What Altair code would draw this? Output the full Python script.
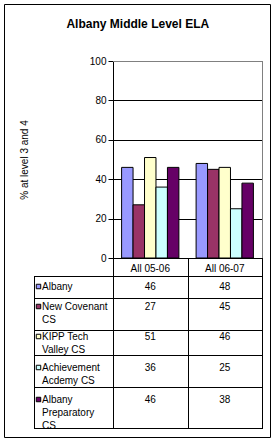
import altair as alt
import pandas as pd

# ---------------- data ----------------
title_text = "Albany Middle Level ELA"
y_title = "% at level 3 and 4"
categories = ["All 05-06", "All 06-07"]
schools = ["Albany", "New Covenant CS", "KIPP Tech Valley CS",
           "Achievement Acdemy CS", "Albany Preparatory CS"]
label_lines = [["Albany"], ["New Covenant", "CS"], ["KIPP Tech", "Valley CS"],
               ["Achievement", "Acdemy CS"], ["Albany", "Preparatory", "CS"]]
values_0506 = [46, 27, 51, 36, 46]
values_0607 = [48, 45, 46, 25, 38]
colors = ["#9999FF", "#993366", "#FFFFCC", "#CCFFFF", "#660066"]
y_ticks = [0, 20, 40, 60, 80, 100]

# ---------------- layout (pixels) ----------------
W, H = 149, 197
LEFT, TOP = 113, 61
row_lines = [276, 298, 330, 355, 387, 428]
row_text_top = [283, 303, 333, 364, 396]
LINE_H = 13
CAP = 7.2
FONT = "Liberation Sans"

# ---------------- tables built from the arrays ----------------
bar_rows = []
for i, s in enumerate(schools):
    for c, vals in zip(categories, [values_0506, values_0607]):
        bar_rows.append({"school": s, "period": c, "value": vals[i],
                         "ty": row_text_top[i] + CAP - TOP})
bars_df = pd.DataFrame(bar_rows)

lab_rows = []
for i, (s, lines) in enumerate(zip(schools, label_lines)):
    for j, t in enumerate(lines):
        lab_rows.append({"school": s, "line": t,
                         "ty": row_text_top[i] + j * LINE_H + CAP - TOP})
labels_df = pd.DataFrame(lab_rows)
sq_df = pd.DataFrame({"school": schools,
                      "sy": [t + 3.5 - TOP for t in row_text_top]})
cat_df = pd.DataFrame({"period": categories})
one = pd.DataFrame({"k": [0]})

xs = alt.Scale(domain=categories, paddingInner=0, paddingOuter=0)
xo = alt.Scale(domain=schools, paddingInner=0, paddingOuter=0.75)
cs = alt.Scale(domain=schools, range=colors)

bars = alt.Chart(bars_df).mark_bar(stroke="black", strokeWidth=1).encode(
    x=alt.X("period:N", scale=xs, axis=None),
    xOffset=alt.XOffset("school:N", scale=xo),
    y=alt.Y("value:Q", scale=alt.Scale(domain=[0, 100]),
            axis=alt.Axis(values=y_ticks, grid=True, gridColor="black", gridWidth=1,
                          tickSize=5, tickColor="black", tickWidth=1,
                          domainColor="black", domainWidth=1,
                          labelFont=FONT, labelFontSize=10, labelColor="black",
                          labelPadding=2,
                          title=y_title, titleFont=FONT, titleFontSize=10,
                          titleFontWeight="normal", titleColor="black",
                          titleAngle=270, titleX=-86, titleY=H / 2,
                          titleAlign="center", titleBaseline="alphabetic")),
    color=alt.Color("school:N", scale=cs, legend=None),
)


def rule(x1, x2, y1, y2, color="black"):
    return alt.Chart(one).mark_rule(color=color, strokeWidth=1).encode(
        x=alt.value(x1), x2=alt.value(x2), y=alt.value(y1), y2=alt.value(y2))


lines = []
# plot border (gray top and right)
lines.append(rule(0, W + 1, 0.5, 0.5, "#808080"))
lines.append(rule(W + 0.5, W + 0.5, 0, H, "#808080"))
# table horizontal lines
for r in row_lines:
    yy = r - TOP + 0.5
    lines.append(rule(34 - LEFT, W + 1, yy, yy))
# table vertical lines
lines.append(rule(34 - LEFT + 0.5, 34 - LEFT + 0.5, row_lines[0] - TOP, row_lines[-1] - TOP + 1))
for c in [113, 188, 262]:
    xx = c - LEFT + 0.5
    lines.append(rule(xx, xx, H, row_lines[-1] - TOP + 1))

frame = alt.Chart(one).mark_rect(fillOpacity=0, stroke="black", strokeWidth=1).encode(
    x=alt.value(4.5 - LEFT), x2=alt.value(270.5 - LEFT),
    y=alt.value(4.5 - TOP), y2=alt.value(437.5 - TOP))

title = alt.Chart(one).mark_text(font=FONT, fontSize=12, fontWeight="bold",
                                 color="black", align="center", baseline="alphabetic").encode(
    x=alt.value(137.8 - LEFT), y=alt.value(28.2 - TOP), text=alt.value(title_text))

cat_text = alt.Chart(cat_df).mark_text(font=FONT, fontSize=10, color="black",
                                       align="center", baseline="alphabetic").encode(
    x=alt.X("period:N", scale=xs, axis=None),
    y=alt.value(271.5 - TOP),
    text="period:N")

val_text = alt.Chart(bars_df).mark_text(font=FONT, fontSize=10, color="black",
                                        align="center", baseline="alphabetic").encode(
    x=alt.X("period:N", scale=xs, axis=None),
    y=alt.Y("ty:Q", scale=None, axis=None),
    text="value:Q")

lab_text = alt.Chart(labels_df).mark_text(font=FONT, fontSize=10, color="black",
                                          align="left", baseline="alphabetic").encode(
    x=alt.value(42 - LEFT),
    y=alt.Y("ty:Q", scale=None, axis=None),
    text="line:N")

squares = alt.Chart(sq_df).mark_square(size=20, stroke="black", strokeWidth=1,
                                       opacity=1).encode(
    x=alt.value(38.5 - LEFT),
    y=alt.Y("sy:Q", scale=None, axis=None),
    color=alt.Color("school:N", scale=cs, legend=None))

chart = alt.layer(frame, bars, *lines, title, cat_text, val_text, lab_text, squares).resolve_scale(
    y="independent"
).properties(
    width=W, height=H,
    autosize=alt.AutoSizeParams(type="none"),
    padding={"left": LEFT, "top": TOP, "right": 276 - LEFT - W, "bottom": 443 - TOP - H},
    background="white",
).configure_view(stroke="transparent")

chart.save("out.html", embed_options={"renderer": "svg", "actions": False})
